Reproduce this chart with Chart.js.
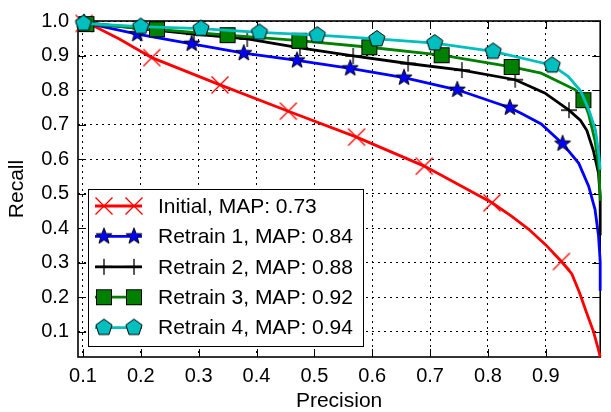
<!DOCTYPE html>
<html>
<head>
<meta charset="utf-8">
<script src="https://cdn.jsdelivr.net/npm/chart.js@4.4.1/dist/chart.umd.min.js"></script>
<style>
  html, body { margin: 0; padding: 0; background: #fff; }
  #wrap { width: 611px; height: 412px; }
</style>
</head>
<body>
<div id="wrap"><canvas id="chart" width="611" height="412"></canvas></div>
<script>
const seriesNames = ["Initial, MAP: 0.73", "Retrain 1, MAP: 0.84", "Retrain 2, MAP: 0.88", "Retrain 3, MAP: 0.92", "Retrain 4, MAP: 0.94"]
const xTicks = [0.1, 0.2, 0.3, 0.4, 0.5, 0.6, 0.7, 0.8, 0.9]
const yTicks = [0.1, 0.2, 0.3, 0.4, 0.5, 0.6, 0.7, 0.8, 0.9, 1.0]

const initialPrecision = [0.102, 0.118, 0.163, 0.219, 0.337, 0.455, 0.573, 0.690, 0.807, 0.840, 0.870, 0.900, 0.927, 0.945, 0.958, 0.970, 0.982, 0.990, 0.994]
const initialRecall = [0.993, 0.986, 0.948, 0.894, 0.815, 0.739, 0.664, 0.580, 0.474, 0.436, 0.398, 0.352, 0.304, 0.268, 0.215, 0.158, 0.103, 0.055, 0.028]
const initialMarkers = [0, 3, 4, 5, 6, 7, 8, 12]

const retrain1Precision = [0.102, 0.194, 0.288, 0.378, 0.470, 0.562, 0.655, 0.747, 0.838, 0.858, 0.892, 0.929, 0.957, 0.974, 0.985, 0.991, 0.994, 0.994]
const retrain1Recall = [0.995, 0.962, 0.934, 0.907, 0.886, 0.863, 0.836, 0.801, 0.749, 0.732, 0.702, 0.645, 0.588, 0.522, 0.455, 0.380, 0.304, 0.219]
const retrain1Markers = [0, 1, 2, 3, 4, 5, 6, 7, 8, 11]

const retrain2Precision = [0.102, 0.199, 0.292, 0.384, 0.475, 0.567, 0.662, 0.755, 0.847, 0.898, 0.926, 0.940, 0.960, 0.971, 0.982, 0.991, 0.994, 0.994]
const retrain2Recall = [0.996, 0.978, 0.962, 0.948, 0.922, 0.899, 0.877, 0.858, 0.830, 0.792, 0.759, 0.742, 0.712, 0.683, 0.626, 0.560, 0.493, 0.380]
const retrain2Markers = [0, 1, 2, 3, 4, 5, 6, 7, 8, 11]

const retrain3Precision = [0.106, 0.228, 0.350, 0.474, 0.595, 0.720, 0.841, 0.892, 0.951, 0.965, 0.974, 0.985, 0.992, 0.994]
const retrain3Recall = [0.991, 0.976, 0.959, 0.943, 0.924, 0.901, 0.867, 0.849, 0.801, 0.771, 0.730, 0.654, 0.569, 0.480]
const retrain3Markers = [0, 1, 2, 3, 4, 5, 6, 9]

const retrain4Precision = [0.101, 0.200, 0.304, 0.405, 0.505, 0.608, 0.708, 0.809, 0.911, 0.939, 0.960, 0.975, 0.986, 0.992, 0.994]
const retrain4Recall = [0.993, 0.984, 0.978, 0.967, 0.959, 0.948, 0.936, 0.912, 0.872, 0.839, 0.798, 0.740, 0.683, 0.607, 0.570]
const retrain4Markers = [0, 1, 2, 3, 4, 5, 6, 7, 8]

const FONT = "'Liberation Sans', Arial, sans-serif"

// little canvases used as point styles (and reused by the legend)
function makeMarker(draw) {
  const c = document.createElement("canvas")
  c.width = 24
  c.height = 24
  const g = c.getContext("2d")
  g.translate(12, 12)
  draw(g)
  return c
}

function polygon(g, points, outer, inner) {
  g.beginPath()
  const n = inner ? points * 2 : points
  for (let i = 0; i < n; i++) {
    const r = inner && i % 2 ? inner : outer
    const a = -Math.PI / 2 + (i * Math.PI * 2) / n
    const px = Math.cos(a) * r
    const py = Math.sin(a) * r
    i ? g.lineTo(px, py) : g.moveTo(px, py)
  }
  g.closePath()
}

const markerX = makeMarker((g) => {
  g.strokeStyle = "#ff0000"
  g.lineWidth = 1.3
  g.beginPath()
  g.moveTo(-8.5, -8.5); g.lineTo(8.5, 8.5)
  g.moveTo(-8.5, 8.5); g.lineTo(8.5, -8.5)
  g.stroke()
})
const markerStar = makeMarker((g) => {
  polygon(g, 5, 8.5, 3.5)
  g.fillStyle = "#0000ff"
  g.fill()
  g.lineWidth = 1
  g.strokeStyle = "#000"
  g.stroke()
})
const markerPlus = makeMarker((g) => {
  g.strokeStyle = "#000"
  g.lineWidth = 1.3
  g.beginPath()
  g.moveTo(-8, 0); g.lineTo(8, 0)
  g.moveTo(0, -8); g.lineTo(0, 8)
  g.stroke()
})
const markerSquare = makeMarker((g) => {
  g.fillStyle = "#008000"
  g.fillRect(-7.5, -7.5, 15, 15)
  g.lineWidth = 1
  g.strokeStyle = "#000"
  g.strokeRect(-7.5, -7.5, 15, 15)
})
const markerPentagon = makeMarker((g) => {
  polygon(g, 5, 8.5)
  g.fillStyle = "#00bfbf"
  g.fill()
  g.lineWidth = 1
  g.strokeStyle = "#000"
  g.stroke()
})

const series = [
  { precision: initialPrecision, recall: initialRecall, markers: initialMarkers, color: "#ff0000", marker: markerX },
  { precision: retrain1Precision, recall: retrain1Recall, markers: retrain1Markers, color: "#0000ff", marker: markerStar },
  { precision: retrain2Precision, recall: retrain2Recall, markers: retrain2Markers, color: "#000000", marker: markerPlus },
  { precision: retrain3Precision, recall: retrain3Recall, markers: retrain3Markers, color: "#008000", marker: markerSquare },
  { precision: retrain4Precision, recall: retrain4Recall, markers: retrain4Markers, color: "#00bfbf", marker: markerPentagon },
]

const datasets = series.map((s, i) => ({
  label: seriesNames[i],
  data: s.precision.map((p, j) => ({ x: p, y: s.recall[j] })),
  showLine: true,
  borderColor: s.color,
  backgroundColor: s.color,
  borderWidth: 2.8,
  tension: 0,
  fill: false,
  pointStyle: s.marker,
  pointRadius: (ctx) => (s.markers.includes(ctx.dataIndex) ? 8 : 0),
  pointHoverRadius: 0,
  clip: 12,
  order: -i,
}))

// full box around the plot with inward ticks on all four sides
const framePlugin = {
  id: "frame",
  beforeDatasetsDraw(chart) {
    const { ctx, chartArea: a, scales } = chart
    ctx.save()
    ctx.strokeStyle = "#000"
    ctx.lineWidth = 1
    ctx.beginPath()
    xTicks.forEach((v) => {
      const px = Math.round(scales.x.getPixelForValue(v)) + 0.5
      ctx.moveTo(px, a.bottom); ctx.lineTo(px, a.bottom - 8)
      ctx.moveTo(px, a.top); ctx.lineTo(px, a.top + 8)
    })
    yTicks.forEach((v) => {
      const py = Math.round(scales.y.getPixelForValue(v)) + 0.5
      ctx.moveTo(a.left, py); ctx.lineTo(a.left + 8, py)
      ctx.moveTo(a.right, py); ctx.lineTo(a.right - 8, py)
    })
    ctx.stroke()
    ctx.lineWidth = 1.6
    ctx.strokeRect(a.left, a.top, a.right - a.left, a.bottom - a.top)
    ctx.restore()
  },
}

const legendPlugin = {
  id: "boxLegend",
  afterDraw(chart) {
    const { ctx } = chart
    const box = { left: 88, top: 189, right: 363, bottom: 346 }
    ctx.save()
    ctx.fillStyle = "#fff"
    ctx.fillRect(box.left, box.top, box.right - box.left, box.bottom - box.top)
    ctx.strokeStyle = "#000"
    ctx.lineWidth = 1
    ctx.strokeRect(box.left + 0.5, box.top + 0.5, box.right - box.left, box.bottom - box.top)
    ctx.font = `21px ${FONT}`
    ctx.textBaseline = "middle"
    series.forEach((s, i) => {
      const y = 206 + i * 30.4
      ctx.strokeStyle = s.color
      ctx.lineWidth = 2.8
      ctx.beginPath()
      ctx.moveTo(95, y)
      ctx.lineTo(142, y)
      ctx.stroke()
      ctx.drawImage(s.marker, 104 - 12, y - 12)
      ctx.drawImage(s.marker, 134 - 12, y - 12)
      ctx.fillStyle = "#000"
      ctx.fillText(seriesNames[i], 158, y + 1)
    })
    ctx.restore()
  },
}

new Chart(document.getElementById("chart"), {
  type: "scatter",
  data: { datasets },
  plugins: [framePlugin, legendPlugin],
  options: {
    responsive: false,
    animation: false,
    events: [],
    layout: { padding: { top: 15, right: 1, left: 0, bottom: 0 } },
    plugins: {
      legend: { display: false },
      tooltip: { enabled: false },
    },
    scales: {
      x: {
        type: "linear",
        min: 0.0915,
        max: 0.994,
        afterBuildTicks: (scale) => {
          scale.ticks = xTicks.map((v) => ({ value: v }))
        },
        afterFit: (scale) => {
          scale.height = 55
        },
        grid: { color: "#000", lineWidth: 1, drawTicks: false },
        border: { display: false, dash: [2, 4] },
        ticks: {
          color: "#000",
          padding: 7,
          font: { family: FONT, size: 20 },
          callback: (v) => Number(v).toFixed(1),
        },
        title: {
          display: true,
          text: "Precision",
          color: "#000",
          padding: 0,
          font: { family: FONT, size: 21, lineHeight: 1 },
        },
      },
      y: {
        type: "linear",
        min: 0.0276,
        max: 1.0,
        afterBuildTicks: (scale) => {
          scale.ticks = yTicks.map((v) => ({ value: v }))
        },
        afterFit: (scale) => {
          scale.width = 78
        },
        grid: { color: "#000", lineWidth: 1, drawTicks: false },
        border: { display: false, dash: [2, 4] },
        ticks: {
          color: "#000",
          padding: 9,
          font: { family: FONT, size: 20 },
          callback: (v) => Number(v).toFixed(1),
        },
        title: {
          display: true,
          text: "Recall",
          color: "#000",
          padding: { top: 7, bottom: 0 },
          font: { family: FONT, size: 21, lineHeight: 1 },
        },
      },
    },
  },
})
</script>
</body>
</html>
